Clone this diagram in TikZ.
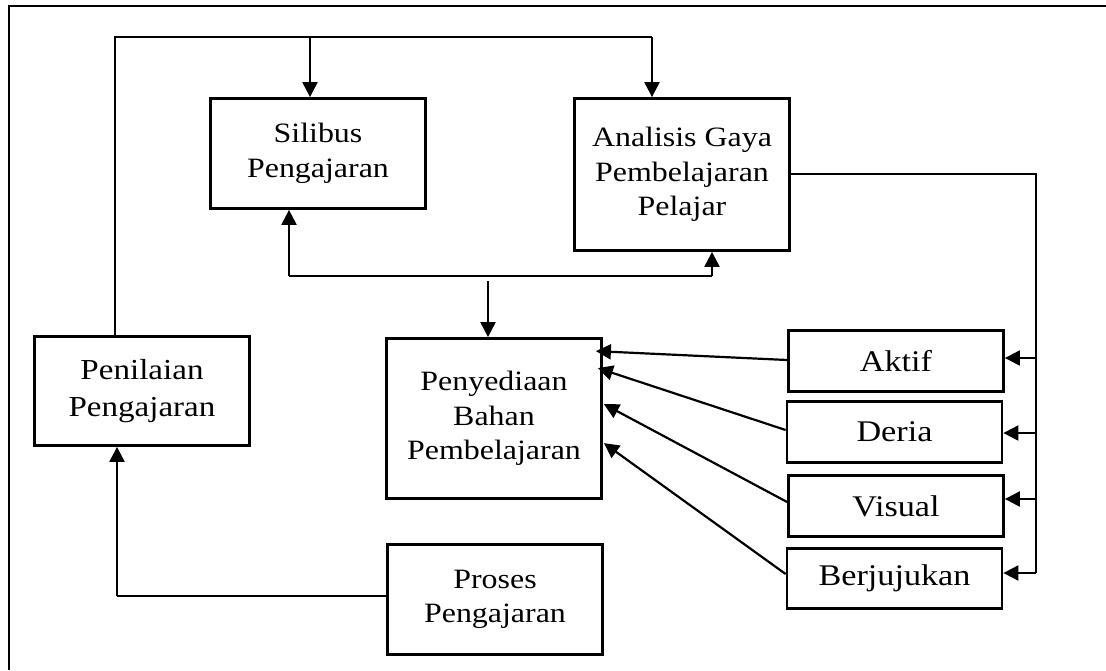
\documentclass[tikz,border=0pt]{standalone}
\usepackage{fontspec}
\setmainfont{Liberation Serif}[FakeStretch=1.14]
\usetikzlibrary{arrows.meta,calc}
\tikzset{
  box/.style={draw, line width=2.8pt, align=center, inner sep=0pt,
    minimum width=215, font=\fontsize{28}{34.5}\selectfont},
  big/.style={font=\fontsize{30}{37}\selectfont},
  conn/.style={line width=2.2pt},
  arr/.style={line width=2.2pt, -{Triangle[length=15pt,width=15pt]}},
}
\begin{document}
\begin{tikzpicture}[x=1pt,y=-1pt]
\useasboundingbox (0,0) rectangle (1106,670);
% frame
\draw[line width=2.8pt] (9,670) -- (9,6) -- (1106,6);
% boxes
\node[box, minimum height=110] (sil) at (318,153.5) {Silibus\\Pengajaran};
\node[box, minimum height=152] (ana) at (682,174.5) {Analisis Gaya\\Pembelajaran\\Pelajar};
\node[box, minimum height=109, font=\fontsize{29}{37}\selectfont] (pen) at (142,391) {Penilaian\\Pengajaran};
\node[box, minimum height=160] (pny) at (494,418.5) {Penyediaan\\Bahan\\Pembelajaran};
\node[box, minimum height=110] (pro) at (495,599.5) {Proses\\Pengajaran};
\node[box, big, minimum height=61] (akt) at (896,361) {Aktif};
\node[box, big, minimum height=61] (der) at (894.5,432) {Deria};
\node[box, big, minimum height=61] (vis) at (896,506) {Visual};
\node[box, big, minimum height=60] (ber) at (894.5,578.5) {Berjujukan};
% top loop
\coordinate (tl) at (115,37);
\coordinate (tr) at (652,37);
\draw[conn] (pen.north -| tl) -- (tl) -- (tr);
\draw[arr] (tr) -- (tr |- ana.north);
\coordinate (ts) at (310,37);
\draw[arr] (ts) -- (ts |- sil.north);
% bracket under top boxes
\coordinate (bl) at (289,276);
\coordinate (br) at (712,276);
\draw[conn] (bl) -- (br);
\draw[arr] (bl) -- (bl |- sil.south);
\draw[arr] (br) -- (br |- ana.south);
\coordinate (bm) at (488,281);
\draw[arr] (bm) -- (bm |- pny.north);
% right distribution
\coordinate (rt) at (1036,174);
\coordinate (rb) at (1036,573);
\draw[conn] (ana.east |- rt) -- (rt) -- (rb);
\coordinate (ra) at (1036,358);
\coordinate (rd) at (1036,433);
\coordinate (rv) at (1036,499);
\draw[arr] (ra) -- (ra -| akt.east);
\draw[arr] (rd) -- (rd -| der.east);
\draw[arr] (rv) -- (rv -| vis.east);
\draw[arr] (rb) -- (rb -| ber.east);
% styles to Penyediaan
\draw[arr] (akt.west |- 0,360) -- ($(pny.north east)+(-7,14)$);
\draw[arr] (der.west |- 0,430) -- ($(pny.north east)+(-5,31)$);
\draw[arr] (vis.west |- 0,502) -- ($(pny.north east)+(1,67)$);
\draw[arr] (ber.west |- 0,574) -- ($(pny.north east)+(1,106)$);
% Proses to Penilaian
\coordinate (pl) at (117,596);
\draw[conn] (pro.west |- pl) -- (pl);
\draw[arr] (pl) -- (pl |- pen.south);
\end{tikzpicture}
\end{document}
